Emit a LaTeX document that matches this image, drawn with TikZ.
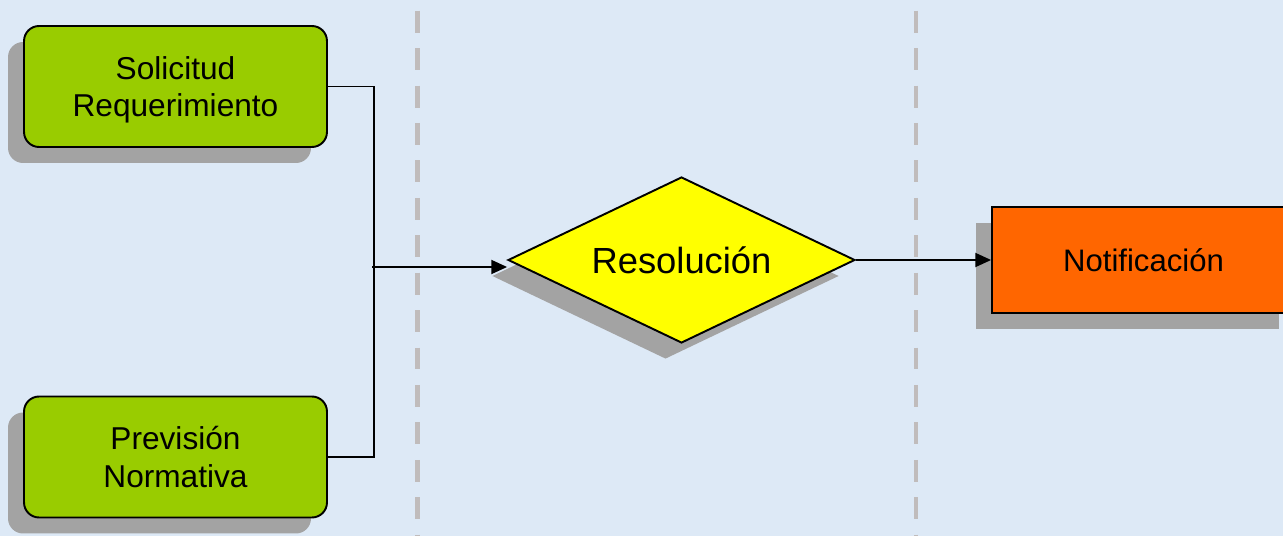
\documentclass[tikz,border=0pt]{standalone}
\usepackage{fontspec}
\setmainfont{Liberation Sans}
\usetikzlibrary{shapes.geometric, shadows, arrows.meta}
\definecolor{fondo}{RGB}{221,233,246}
\definecolor{verde}{RGB}{153,204,0}
\definecolor{amarillo}{RGB}{255,255,0}
\definecolor{naranja}{RGB}{255,102,0}
\definecolor{carril}{RGB}{192,188,188}

\begin{document}
\begin{tikzpicture}[x=0.02cm, y=-0.02cm,
		sombra/.style={drop shadow={shadow xshift=-0.32cm, shadow yshift=-0.32cm, fill=black!36, opacity=1}},
		caja/.style={draw, line width=1.1pt, rounded corners=0.3cm, fill=verde, sombra, minimum width=6.06cm, minimum height=2.42cm, align=center, font=\fontsize{18}{21.5}\selectfont},
		decision/.style={draw, line width=1.1pt, diamond, aspect=2.09, fill=amarillo, sombra, minimum width=6.94cm, minimum height=3.32cm, inner sep=0pt, font=\fontsize{20.7}{24}\selectfont},
		salida/.style={draw, line width=1.1pt, fill=naranja, sombra, minimum width=6.06cm, minimum height=2.12cm, font=\fontsize{17.7}{21}\selectfont},
		link/.style={line width=1pt},
		flecha/.style={link, -{Triangle[length=9pt, width=8pt]}},
		lane/.style={carril, line width=2.8pt, dash pattern=on 12.5pt off 8.8pt}]
		\fill[fondo] (0,0) rectangle (1283,536);
		\useasboundingbox (0,0) rectangle (1283,536);
		% carriles
		\draw[lane] (417.5,10.7) -- (417.5,536);
		\draw[lane] (916,10.7) -- (916,536);
		% nodos
		\node[caja] (sol) at (175.5,86.5) {Solicitud\\\raisebox{0pt}[\height][0pt]{Requerimiento}};
		\node[caja] (prev) at (175.5,457) {Previsión\\Normativa};
		\node[decision] (res) at (681.5,260) {Resolución};
		\node[salida] (notif) at (1143.5,260) {Notificación};
		% conectores
		\coordinate (jn) at (374,267);
		\draw[link] (sol.east) -| (jn) |- (prev.east);
		\draw[flecha] ([xshift=-0.04cm]jn) -- (jn -| res.west);
		\draw[flecha] (res.east) -- (notif.west);
\end{tikzpicture}
\end{document}
